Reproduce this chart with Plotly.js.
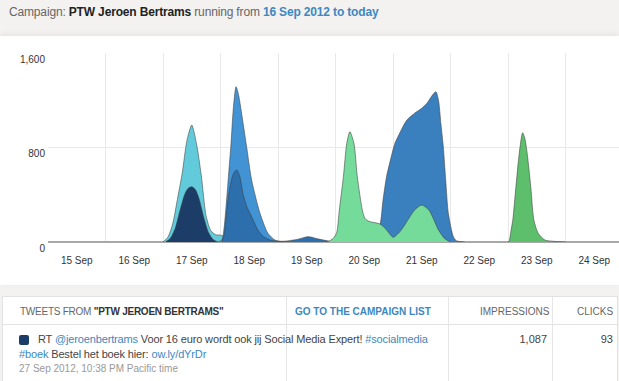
<!DOCTYPE html>
<html>
<head>
<meta charset="utf-8">
<script src="https://cdn.plot.ly/plotly-3.0.1.min.js"></script>
<style>
  html, body { margin:0; padding:0; width:619px; height:381px; overflow:hidden; background:#f3f2f0; font-family:"Liberation Sans", Arial, sans-serif; }
  #hdr { position:absolute; left:9px; top:4px; font-size:12px; line-height:16px; color:#666; white-space:nowrap; letter-spacing:-0.16px; }
  #hdr b.n { color:#222; }
  #hdr b.d { color:#3d88bf; }
  #panel { position:absolute; left:0; top:36px; width:619px; height:249px; background:#fff; box-shadow:0 -2px 6px rgba(0,0,0,0.06); overflow:hidden; }
  #chart { position:absolute; left:0; top:0; width:630px; height:249px; }
  #tbl { position:absolute; left:2px; top:296px; width:614px; height:90px; background:#fff; border:1px solid #e2e2e2; }
  .c { position:absolute; white-space:nowrap; font-size:10px; color:#666; }
  .vl { position:absolute; top:0; width:1px; height:90px; background:#e6e6e6; }
  .hl { position:absolute; left:0; top:27px; width:614px; height:1px; background:#e2e2e2; }
  .r { position:absolute; white-space:nowrap; font-size:11px; color:#444; }
  .lk { color:#3d88bf; }
</style>
</head>
<body>
<div id="hdr">Campaign: <b class="n">PTW Jeroen Bertrams</b> running from <b class="d">16 Sep 2012 to today</b></div>
<div id="panel"><div id="chart"></div></div>
<div id="tbl">
  <div class="hl"></div>
  <div class="vl" style="left:283px"></div>
  <div class="vl" style="left:445px"></div>
  <div class="vl" style="left:549px"></div>
  <div class="c" style="left:17px; top:9px; letter-spacing:-0.25px;">TWEETS FROM <b style="color:#333">"PTW JEROEN BERTRAMS"</b></div>
  <div class="c" style="left:292px; top:9px; color:#3d88bf; font-weight:bold;">GO TO THE CAMPAIGN LIST</div>
  <div class="c" style="left:477px; top:9px;">IMPRESSIONS</div>
  <div class="c" style="left:574px; top:9px;">CLICKS</div>
  <div style="position:absolute; left:16px; top:38px; width:10px; height:10px; border-radius:2px; background:#1c3d68;"></div>
  <div class="r" style="left:35px; top:36px; letter-spacing:-0.14px;">RT <span class="lk">@jeroenbertrams</span> Voor 16 euro wordt ook jij Social Media Expert! <span class="lk">#socialmedia</span></div>
  <div class="r" style="left:16px; top:51px; letter-spacing:-0.14px;"><span class="lk">#boek</span> Bestel het boek hier: <span class="lk">ow.ly/dYrDr</span></div>
  <div class="r" style="left:16px; top:66px; font-size:10px; color:#999;">27 Sep 2012, 10:38 PM Pacific time</div>
  <div class="r" style="right:70px; top:36px;">1,087</div>
  <div class="r" style="right:4px; top:36px;">93</div>
</div>
<script>
// Series A: light cyan (17 Sep)
const cyanX = ['2012-09-17 00:00','2012-09-17 02:00','2012-09-17 04:00','2012-09-17 06:00','2012-09-17 08:00','2012-09-17 10:00','2012-09-17 12:00','2012-09-17 14:00','2012-09-17 16:00','2012-09-17 18:00','2012-09-17 20:00','2012-09-17 22:00','2012-09-18 00:00','2012-09-18 02:00','2012-09-18 04:00','2012-09-18 06:00'];
const cyanY = [0,40,150,360,580,860,990,830,560,220,95,62,58,45,15,0];
// Series B: navy (17 Sep)
const navyX = ['2012-09-17 01:00','2012-09-17 03:00','2012-09-17 05:00','2012-09-17 07:00','2012-09-17 09:00','2012-09-17 10:30','2012-09-17 12:00','2012-09-17 13:30','2012-09-17 15:00','2012-09-17 17:00','2012-09-17 19:00','2012-09-17 21:00','2012-09-17 23:00'];
const navyY = [0,30,110,260,400,455,468,445,370,210,80,20,0];
// Series C: blue (18 Sep)
const blueX = ['2012-09-17 23:00','2012-09-18 00:36','2012-09-18 01:30','2012-09-18 02:12','2012-09-18 03:18','2012-09-18 04:24','2012-09-18 05:18','2012-09-18 06:30','2012-09-18 07:30','2012-09-18 08:48','2012-09-18 10:54','2012-09-18 13:00','2012-09-18 16:30','2012-09-18 19:48','2012-09-18 22:42','2012-09-19 02:00'];
const blueY = [0,20,120,271,553,836,1117,1315,1250,1090,807,525,243,74,17,0];
// Series D: darker blue (18-19 Sep)
const dblueX = ['2012-09-18 00:36','2012-09-18 01:30','2012-09-18 02:18','2012-09-18 03:18','2012-09-18 04:18','2012-09-18 05:30','2012-09-18 06:48','2012-09-18 08:00','2012-09-18 09:30','2012-09-18 11:00','2012-09-18 12:18','2012-09-18 14:00','2012-09-18 15:36','2012-09-18 18:00','2012-09-18 21:00','2012-09-19 02:00','2012-09-19 08:00','2012-09-19 12:36','2012-09-19 17:00','2012-09-19 22:00','2012-09-20 01:00'];
const dblueY = [0,60,200,384,500,585,610,560,400,300,243,170,102,45,15,6,22,45,25,5,0];
// Series G: blue (21 Sep)
const blue2X = ['2012-09-20 10:00','2012-09-20 14:00','2012-09-20 17:00','2012-09-20 18:36','2012-09-20 19:48','2012-09-20 21:18','2012-09-20 23:00','2012-09-21 00:48','2012-09-21 03:00','2012-09-21 05:42','2012-09-21 09:00','2012-09-21 12:00','2012-09-21 14:00','2012-09-21 16:30','2012-09-21 17:54','2012-09-21 19:00','2012-09-21 20:00','2012-09-21 21:00','2012-09-21 22:00','2012-09-21 23:06','2012-09-22 01:12','2012-09-22 02:30','2012-09-22 06:00'];
const blue2Y = [0,30,100,152,350,553,700,836,930,1030,1090,1132,1170,1245,1272,1200,1000,807,525,243,45,10,0];
// Series F: light green (20-21 Sep)
const lgreenX = ['2012-09-19 20:00','2012-09-19 21:00','2012-09-19 23:00','2012-09-20 00:30','2012-09-20 01:36','2012-09-20 03:18','2012-09-20 04:42','2012-09-20 06:00','2012-09-20 07:42','2012-09-20 09:06','2012-09-20 11:12','2012-09-20 12:18','2012-09-20 14:00','2012-09-20 18:36','2012-09-20 21:00','2012-09-21 00:06','2012-09-21 03:00','2012-09-21 06:00','2012-09-21 09:00','2012-09-21 12:00','2012-09-21 15:00','2012-09-21 17:00','2012-09-21 19:00','2012-09-21 21:30','2012-09-22 00:00'];
const lgreenY = [0,5,30,80,271,553,836,934,836,553,271,200,175,152,110,40,90,180,270,313,270,190,102,30,0];
// Series H: green (23 Sep)
const greenX = ['2012-09-23 00:00','2012-09-23 00:30','2012-09-23 01:12','2012-09-23 02:00','2012-09-23 03:18','2012-09-23 04:42','2012-09-23 06:06','2012-09-23 07:00','2012-09-23 08:00','2012-09-23 09:30','2012-09-23 10:48','2012-09-23 12:36','2012-09-23 15:24','2012-09-23 19:00','2012-09-24 00:00'];
const greenY = [0,10,90,186,468,751,925,880,751,468,186,74,17,6,0];

const yTickVals = [0, 800, 1600];
const yTickText = ['0', '800', '1,600'];

const seriesList = [
  [cyanX, cyanY, '#62cbdb'],
  [navyX, navyY, '#1c3d68'],
  [blueX, blueY, '#4193d4'],
  [dblueX, dblueY, '#2d6eac'],
  [blue2X, blue2Y, '#3a7fbe'],
  [lgreenX, lgreenY, '#74db9b'],
  [greenX, greenY, '#5dbf6c']
];

const traces = seriesList.map(s => ({
  type: 'scatter', mode: 'lines', x: s[0], y: s[1],
  fill: 'tozeroy', fillcolor: s[2],
  line: {shape: 'spline', smoothing: 0.7, color: 'rgba(60,60,60,0.55)', width: 1},
  hoverinfo: 'skip', showlegend: false
}));

const layout = {
  width: 630, height: 249,
  margin: {l: 48, r: 7, t: 17, b: 43},
  paper_bgcolor: '#fff', plot_bgcolor: '#fff',
  font: {family: '"Liberation Sans", Arial, sans-serif', size: 10, color: '#333'},
  xaxis: {
    type: 'date', range: ['2012-09-15 00:00', '2012-09-25 00:00'],
    tick0: '2012-09-15', dtick: 86400000, ticklabelmode: 'period',
    tickformat: '%-d %b', showgrid: true, gridcolor: '#e9e9e9', gridwidth: 1,
    ticks: 'outside', ticklen: 9, tickcolor: 'rgba(0,0,0,0)',
    zeroline: false, showline: false, fixedrange: true
  },
  yaxis: {
    range: [0, 1600], tickmode: 'array', tickvals: yTickVals, ticktext: yTickText,
    showgrid: true, gridcolor: '#e9e9e9', zeroline: true, zerolinecolor: '#a8a8a8', zerolinewidth: 1.5,
    ticklabelshift: 6, ticklabelstandoff: 2, showline: false, fixedrange: true
  },
  showlegend: false
};

Plotly.newPlot('chart', traces, layout, {staticPlot: true, displayModeBar: false});
</script>
</body>
</html>
